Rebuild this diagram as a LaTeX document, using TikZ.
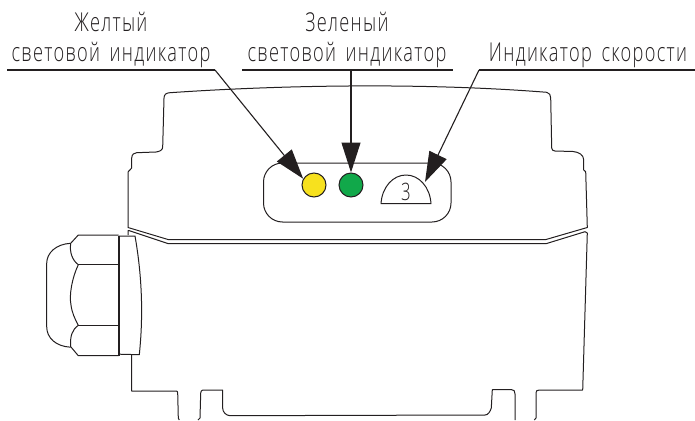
\documentclass[tikz,border=0pt]{standalone}
\usepackage{fontspec}
\setmainfont[FakeStretch=0.70,LetterSpace=5,WordSpace=1.6]{Open Sans Light}
\usetikzlibrary{arrows.meta}
\definecolor{ink}{HTML}{231F20}
\definecolor{yellowlamp}{HTML}{F7E11E}
\definecolor{greenlamp}{HTML}{11A84A}
\tikzset{
  outline/.style={draw=ink,line width=1pt,line join=round},
  heavy/.style={draw=ink,line width=1.1pt,line join=round},
  leader/.style={draw=ink,line width=1.1pt},
  pointer/.style={leader,-{Triangle[length=30pt,width=19pt,fill=ink]}},
  lamp/.style={circle,draw=ink,line width=1pt,minimum size=24pt,inner sep=0pt},
  caption/.style={inner sep=0pt,font=\fontsize{26}{30}\selectfont,text=ink,anchor=base}
}
\begin{document}
\begin{tikzpicture}[x=1pt,y=-1pt]
\useasboundingbox (0,0) rectangle (695,420);
% upper cover
\draw[outline] (128,227.5) -- (128,172) -- (131.7,168) -- (131.7,158)
  .. controls (132,154) and (134,153) .. (136.7,152.7) -- (156,152)
  .. controls (160,151.5) and (162.7,150) .. (162.7,146.7) -- (164,98.3)
  .. controls (164,94.5) and (166,92.9) .. (170,92.7)
  .. controls (290,84.5) and (430,83) .. (546.7,92.3)
  .. controls (549.5,93) and (550.7,95) .. (550.7,98) -- (551.7,148)
  .. controls (552,150) and (553,151) .. (555,151) -- (573,151.5)
  .. controls (579,152) and (583.7,155) .. (583.7,160) -- (583.7,170) -- (585.7,171.7)
  -- (587.3,227.5) -- (546,239.5) -- (168,239.5) -- cycle;
% lower body
\draw[outline] (128,235) -- (128,230.7) -- (129.3,230.7) -- (168.3,243.7) -- (546,243.7) -- (585,231.7)
  -- (587.3,233) -- (582.7,390) -- (539.3,390) .. controls (537,390) and (536,391) .. (536,392.7)
  -- (536,418) -- (534.3,420);
\draw[outline] (515,420) -- (515,418.3) -- (515,394) .. controls (515,391) and (514,389.7) .. (511.7,389.7)
  -- (492.3,389.7) -- (491.3,408) .. controls (490,412) and (488,415) .. (485,415)
  -- (230,415.7) .. controls (226,415.5) and (222.7,412) .. (222.7,408.3) -- (222.7,390) -- (203,390)
  .. controls (201.5,390) and (200.7,391.5) .. (200.7,393) -- (200,418) -- (198,420);
\draw[outline] (179.3,420) -- (178.3,418) -- (177.7,393) .. controls (177.7,391.5) and (177,391) .. (176,391)
  -- (131.7,391) -- (131.7,355);
% cable gland
\draw[outline] (119,236) -- (135,236) .. controls (141,270) and (144,310) .. (139.3,354.7) -- (119,354.2);
\draw[heavy] (119,236) -- (119,355.7);
\draw[outline] (118.5,235) -- (78.3,235) -- (70.7,243.3) .. controls (69.5,252) and (72,260) .. (78.3,264.7);
\draw[heavy] (78.3,264.7) -- (118.5,264.7);
\draw[outline] (78.3,264.7) .. controls (72,278) and (69,295) .. (71,305) .. controls (72,313) and (75,319) .. (78.3,325.3);
\draw[heavy] (78.3,325.3) -- (118.5,325.3);
\draw[outline] (78.3,325.3) .. controls (72,330) and (70,336) .. (70.7,346.7) -- (78.3,355.7) -- (118.5,355.7);
\draw[outline] (70.7,243.3) .. controls (56,244) and (46.7,253) .. (46.7,263.3) -- (46.7,326.7)
  .. controls (46.7,338) and (56,346.5) .. (70.7,347.2);
% indicator panel
\node[outline,rounded corners=19pt,minimum width=187.5pt,minimum height=59pt,inner sep=0pt] (panel) at (357.25,192.5) {};
\node[lamp,fill=yellowlamp] (yellow) at (314,185) {};
\node[lamp,fill=greenlamp] (green) at (351,185) {};
\draw[outline] (381,203.7) .. controls (382,187) and (393,175) .. (406,175)
  .. controls (419,175) and (430,187) .. (431,203.7) -- cycle;
\node[inner sep=0pt,font=\fontsize{24}{24}\selectfont,text=ink] (speedval) at (406,192) {3};
\coordinate (dome) at (425,182);
% captions
\node[caption] (ycapa) at (111,32) {Желтый};
\node[caption] (ycapb) at (111,61) {световой индикатор};
\node[caption] (gcapa) at (347,32) {Зеленый};
\node[caption] (gcapb) at (347,61) {световой индикатор};
\node[caption] (scap) at (588,61) {Индикатор скорости};
% leaders
\coordinate (yl) at (7,70); \coordinate (yk) at (215,70);
\coordinate (gl) at (242,70); \coordinate (gr) at (453,70); \coordinate (gk) at (351,70);
\coordinate (sr) at (695,70); \coordinate (sk) at (479,70);
\draw[leader] (yl) -- (yk);
\draw[leader] (gl) -- (gr);
\draw[leader] (sr) -- (sk);
\draw[pointer] (yk) -- (yellow.150);
\draw[pointer] (gk) -- (green.north);
\draw[pointer] (sk) -- (dome);
\end{tikzpicture}
\end{document}
